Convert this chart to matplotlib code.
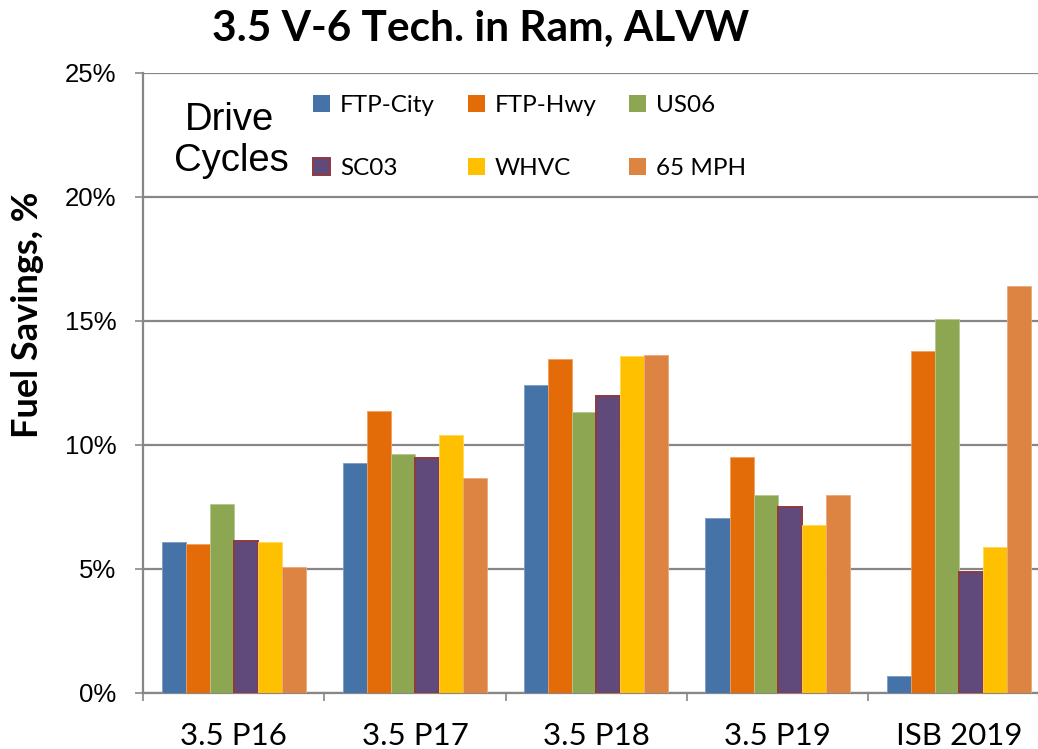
import matplotlib
matplotlib.use("Agg")
import matplotlib.pyplot as plt
import numpy as np
from matplotlib.patches import Patch

groups = ["3.5 P16", "3.5 P17", "3.5 P18", "3.5 P19", "ISB 2019"]
series = ["FTP-City", "FTP-Hwy", "US06", "SC03", "WHVC", "65 MPH"]
ftp_city = [6.08, 9.26, 12.40, 7.04, 0.67]
ftp_hwy = [6.01, 11.39, 13.47, 9.50, 13.81]
us06 = [7.63, 9.64, 11.35, 7.99, 15.07]
sc03 = [6.12, 9.49, 11.97, 7.48, 4.88]
whvc = [6.08, 10.40, 13.59, 6.79, 5.90]
mph65 = [5.09, 8.67, 13.63, 7.97, 16.40]
yticks = [0, 5, 10, 15, 20, 25]

values = [ftp_city, ftp_hwy, us06, sc03, whvc, mph65]
colors = ["#4673A7", "#E36C09", "#8CA652", "#604A7B", "#FFC000", "#DE8442"]
edges = ["#7C9CC6", "#F0A060", "#B3C98A", "#8E3A3E", "#FFD65C", "#EBAA7A"]
lws = [0.6, 0.6, 0.6, 1.4, 0.6, 0.6]

W, H = 1038, 749
fig = plt.figure(figsize=(W / 100, H / 100), dpi=100)
left, right, bottom, top = 143, 1049.5, 693, 73
ax = fig.add_axes([left / W, 1 - bottom / H, (right - left) / W, (bottom - top) / H])

x = np.arange(len(groups))
bw = 0.1325
for i, (vals, c, e, lw) in enumerate(zip(values, colors, edges, lws)):
    ax.bar(x + (i - 2.5) * bw, np.array(vals) / 100, width=bw, color=c,
           edgecolor=e, linewidth=lw, zorder=3)

grey = "#878787"
ax.set_xlim(-0.5, len(groups) - 0.5)
ax.set_ylim(0, 0.25)
ax.set_yticks([v / 100 for v in yticks])
ax.set_yticklabels([f"{v}%" for v in yticks], fontfamily="Liberation Sans", fontsize=18.5)
ax.yaxis.grid(True, color=grey, linewidth=1.6, zorder=0)
ax.set_axisbelow(True)
ax.tick_params(axis="y", direction="out", length=6, width=1.2, color=grey, pad=13)

ax.set_xticks(x)
ax.set_xticklabels(groups, fontfamily=["Liberation Sans Narrow", "Lato"], fontsize=22.5)
ax.set_xticks(np.arange(len(groups) + 1) - 0.5, minor=True)
ax.tick_params(axis="x", which="major", length=0, pad=21)
ax.tick_params(axis="x", which="minor", direction="out", length=6, width=1.2, color=grey)

for s in ["top", "right"]:
    ax.spines[s].set_visible(False)
for s in ["left", "bottom"]:
    ax.spines[s].set_color(grey)
    ax.spines[s].set_linewidth(1.6)

ax.set_ylabel("Fuel Savings, %", fontfamily="Lato", fontweight="bold", fontsize=26)
ax.yaxis.set_label_coords((44 - left) / (right - left), (bottom - 315) / (bottom - top))

fig.text(481 / W, 1 - 29 / H, "3.5 V-6 Tech. in Ram, ALVW", ha="center", va="center",
         fontfamily="Lato", fontweight="bold", fontsize=30.5)

fig.text(229 / W, 1 - 120 / H, "Drive", ha="center", va="center",
         fontfamily="Liberation Sans", fontsize=27.5)
fig.text(231 / W, 1 - 161 / H, "Cycles", ha="center", va="center",
         fontfamily="Liberation Sans", fontsize=27.5)

handles = [Patch(facecolor=c, edgecolor=e if i == 3 else c, linewidth=1.4 if i == 3 else 0)
           for i, (c, e) in enumerate(zip(colors, edges))]
order = [0, 3, 1, 4, 2, 5]
leg = fig.legend([handles[i] for i in order], [series[i] for i in order], ncol=3,
                 loc="upper left", bbox_to_anchor=(313 / W, 1 - 95 / H), frameon=False,
                 prop={"family": "Lato", "size": 17.5}, handlelength=0.7, handleheight=0.7,
                 handletextpad=0.41, columnspacing=1.35, labelspacing=1.72, borderpad=0,
                 borderaxespad=0)

fig.savefig("out.png", dpi=100)
